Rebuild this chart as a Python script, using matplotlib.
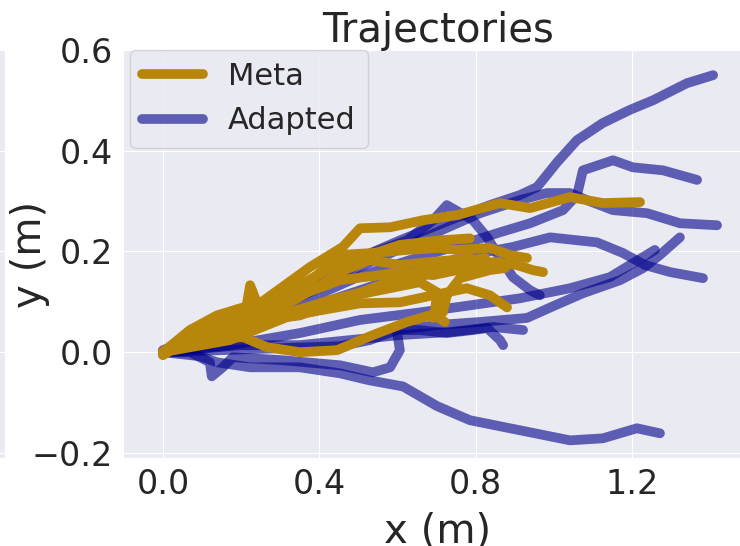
import matplotlib
matplotlib.use("Agg")
import matplotlib.pyplot as plt
import seaborn as sns

# Adapted trajectories (x, y in metres)
adapted_1_x = [0.00, 0.095, 0.223, 0.350, 0.478, 0.606, 0.734, 0.836, 0.913, 0.957, 1.008, 1.059, 1.125, 1.194, 1.253, 1.340, 1.407]
adapted_1_y = [0.004, 0.034, 0.083, 0.133, 0.179, 0.222, 0.262, 0.292, 0.312, 0.328, 0.377, 0.421, 0.455, 0.481, 0.500, 0.534, 0.550]
adapted_2_x = [0.00, 0.120, 0.248, 0.376, 0.504, 0.632, 0.760, 0.862, 0.939, 1.023, 1.059, 1.074, 1.151, 1.202, 1.279, 1.366]
adapted_2_y = [0.000, 0.024, 0.064, 0.107, 0.151, 0.183, 0.213, 0.238, 0.256, 0.282, 0.312, 0.361, 0.381, 0.367, 0.361, 0.342]
adapted_3_x = [0.00, 0.146, 0.299, 0.427, 0.555, 0.683, 0.811, 0.913, 0.982, 1.041, 1.084, 1.151, 1.238, 1.322, 1.417]
adapted_3_y = [0.000, 0.044, 0.093, 0.143, 0.187, 0.232, 0.276, 0.302, 0.316, 0.316, 0.302, 0.282, 0.276, 0.256, 0.252]
adapted_4_x = [0.00, 0.120, 0.274, 0.427, 0.537, 0.624, 0.691, 0.726, 0.793, 0.829, 0.854, 0.895, 0.939, 0.964]
adapted_4_y = [0.000, 0.034, 0.083, 0.137, 0.197, 0.222, 0.262, 0.292, 0.262, 0.228, 0.197, 0.149, 0.123, 0.113]
adapted_5_x = [0.00, 0.171, 0.350, 0.504, 0.657, 0.785, 0.895, 0.990, 1.110, 1.176, 1.233, 1.297, 1.381]
adapted_5_y = [0.000, 0.034, 0.083, 0.123, 0.163, 0.193, 0.209, 0.228, 0.218, 0.197, 0.173, 0.159, 0.147]
adapted_6_x = [0.00, 0.146, 0.299, 0.453, 0.529, 0.598, 0.701, 0.811, 0.931, 0.997, 1.074, 1.169, 1.228, 1.271, 1.322]
adapted_6_y = [0.000, 0.004, 0.008, 0.012, 0.024, 0.044, 0.054, 0.060, 0.068, 0.091, 0.117, 0.143, 0.167, 0.193, 0.228]
adapted_7_x = [0.00, 0.171, 0.350, 0.504, 0.657, 0.785, 0.913, 1.041, 1.143, 1.207, 1.258]
adapted_7_y = [0.000, 0.014, 0.038, 0.064, 0.079, 0.093, 0.107, 0.127, 0.149, 0.179, 0.203]
adapted_8_x = [0.00, 0.095, 0.138, 0.223, 0.350, 0.453, 0.529, 0.614, 0.701, 0.785, 0.913, 1.041, 1.125, 1.212, 1.271]
adapted_8_y = [0.000, -0.008, -0.020, -0.030, -0.030, -0.042, -0.056, -0.068, -0.107, -0.135, -0.155, -0.175, -0.171, -0.151, -0.161]
adapted_9_x = [0.00, 0.069, 0.120, 0.125, 0.153, 0.179, 0.307, 0.394, 0.453, 0.537, 0.581, 0.606, 0.598, 0.657, 0.726, 0.793, 0.829, 0.862, 0.870]
adapted_9_y = [0.000, 0.000, -0.020, -0.048, -0.030, -0.010, -0.016, -0.022, -0.026, -0.040, -0.030, 0.004, 0.044, 0.044, 0.038, 0.044, 0.048, 0.024, 0.014]
adapted_10_x = [0.00, 0.197, 0.350, 0.478, 0.606, 0.734, 0.844, 0.921]
adapted_10_y = [0.000, 0.014, 0.014, 0.024, 0.034, 0.040, 0.050, 0.044]

# Meta trajectories
meta_1_x = [0.00, 0.095, 0.248, 0.376, 0.460, 0.504, 0.581, 0.665, 0.752, 0.862, 0.939, 1.041, 1.125, 1.220]
meta_1_y = [0.000, 0.044, 0.097, 0.169, 0.209, 0.246, 0.248, 0.262, 0.272, 0.296, 0.286, 0.308, 0.296, 0.298]
meta_2_x = [0.00, 0.095, 0.223, 0.350, 0.453, 0.537, 0.624, 0.708, 0.752, 0.836, 0.887, 0.931]
meta_2_y = [0.000, 0.034, 0.073, 0.123, 0.193, 0.197, 0.203, 0.207, 0.203, 0.207, 0.193, 0.187]
meta_3_x = [0.00, 0.120, 0.248, 0.350, 0.453, 0.555, 0.606, 0.691, 0.777, 0.844, 0.905, 0.946, 0.972]
meta_3_y = [0.000, 0.044, 0.083, 0.113, 0.143, 0.153, 0.159, 0.153, 0.167, 0.179, 0.173, 0.163, 0.159]
meta_4_x = [0.00, 0.146, 0.274, 0.402, 0.504, 0.606, 0.691, 0.777, 0.836, 0.880]
meta_4_y = [0.000, 0.034, 0.064, 0.083, 0.097, 0.099, 0.113, 0.127, 0.113, 0.089]
meta_5_x = [0.00, 0.171, 0.299, 0.427, 0.555, 0.657, 0.701, 0.696, 0.691, 0.716, 0.726, 0.760, 0.836, 0.875]
meta_5_y = [0.000, 0.024, 0.064, 0.103, 0.123, 0.139, 0.119, 0.083, 0.068, 0.079, 0.113, 0.147, 0.163, 0.167]
meta_6_x = [0.00, 0.095, 0.205, 0.266, 0.350, 0.445, 0.537, 0.624, 0.691, 0.721]
meta_6_y = [0.000, 0.024, 0.030, 0.010, 0.000, 0.004, 0.034, 0.060, 0.075, 0.060]
meta_7_x = [0.00, 0.069, 0.171, 0.210, 0.223, 0.243, 0.261, 0.350, 0.453, 0.555, 0.657, 0.760, 0.824]
meta_7_y = [0.000, 0.024, 0.054, 0.073, 0.133, 0.093, 0.064, 0.073, 0.103, 0.133, 0.159, 0.179, 0.187]
meta_8_x = [0.00, 0.043, 0.095, 0.146, 0.197, 0.248, 0.325, 0.427, 0.529, 0.632, 0.708, 0.785, 0.862]
meta_8_y = [-0.006, 0.014, 0.024, 0.044, 0.060, 0.068, 0.079, 0.103, 0.123, 0.143, 0.163, 0.167, 0.179]
meta_9_x = [0.005, 0.069, 0.133, 0.223, 0.312, 0.402, 0.465, 0.529, 0.606, 0.683, 0.742, 0.785]
meta_9_y = [0.004, 0.034, 0.054, 0.079, 0.093, 0.133, 0.163, 0.183, 0.173, 0.179, 0.183, 0.187]
meta_10_x = [0.00, 0.069, 0.138, 0.197, 0.274, 0.350, 0.427, 0.504, 0.606, 0.708, 0.785]
meta_10_y = [0.000, 0.044, 0.073, 0.087, 0.103, 0.133, 0.167, 0.187, 0.213, 0.222, 0.226]

x_ticks = [0.0, 0.4, 0.8, 1.2]
y_ticks = [-0.2, 0.0, 0.2, 0.4, 0.6]

adapted = [(adapted_1_x, adapted_1_y), (adapted_2_x, adapted_2_y), (adapted_3_x, adapted_3_y),
           (adapted_4_x, adapted_4_y), (adapted_5_x, adapted_5_y), (adapted_6_x, adapted_6_y),
           (adapted_7_x, adapted_7_y), (adapted_8_x, adapted_8_y), (adapted_9_x, adapted_9_y),
           (adapted_10_x, adapted_10_y)]
meta = [(meta_1_x, meta_1_y), (meta_2_x, meta_2_y), (meta_3_x, meta_3_y), (meta_4_x, meta_4_y),
        (meta_5_x, meta_5_y), (meta_6_x, meta_6_y), (meta_7_x, meta_7_y), (meta_8_x, meta_8_y),
        (meta_9_x, meta_9_y), (meta_10_x, meta_10_y)]

sns.set_style('darkgrid')
plt.rcParams['font.family'] = ['DejaVu Sans']

fig = plt.figure(figsize=(7.4, 5.46), dpi=100)

# sliver of the neighbouring panel on the left edge
ax0 = fig.add_axes([-0.05, 0.1612, 0.0568, 0.7473])
ax0.set_ylim(-0.21, 0.60)
ax0.set_yticks(y_ticks)
ax0.set_xticks([])
ax0.tick_params(labelleft=False, left=False)

ax = fig.add_axes([0.1662, 0.1612, 0.8514, 0.7473])
line_kw = dict(linewidth=7, solid_capstyle='round', solid_joinstyle='round')
for i, (tx, ty) in enumerate(adapted):
    ax.plot(tx, ty, color='darkblue', alpha=0.6, label='Adapted' if i == 0 else None, **line_kw)
for i, (tx, ty) in enumerate(meta):
    ax.plot(tx, ty, color='darkgoldenrod', label='Meta' if i == 0 else None, **line_kw)

ax.set_xlim(-0.102, 1.509)
ax.set_ylim(-0.21, 0.60)
ax.set_xticks(x_ticks)
ax.set_yticks(y_ticks)
ax.tick_params(labelsize=24)
ax.set_title("Trajectories", fontsize=29, pad=6)
ax.set_xlabel("x (m)", fontsize=29, labelpad=8)
ax.set_ylabel("y (m)", fontsize=29)
ax.yaxis.set_label_coords(-0.116, 0.5)

handles, labels = ax.get_legend_handles_labels()
order = [labels.index('Meta'), labels.index('Adapted')]
ax.legend([handles[k] for k in order], [labels[k] for k in order], fontsize=22,
          loc='upper left', bbox_to_anchor=(0.011, 1.0), borderaxespad=0)

fig.savefig('out.png', dpi=100)
